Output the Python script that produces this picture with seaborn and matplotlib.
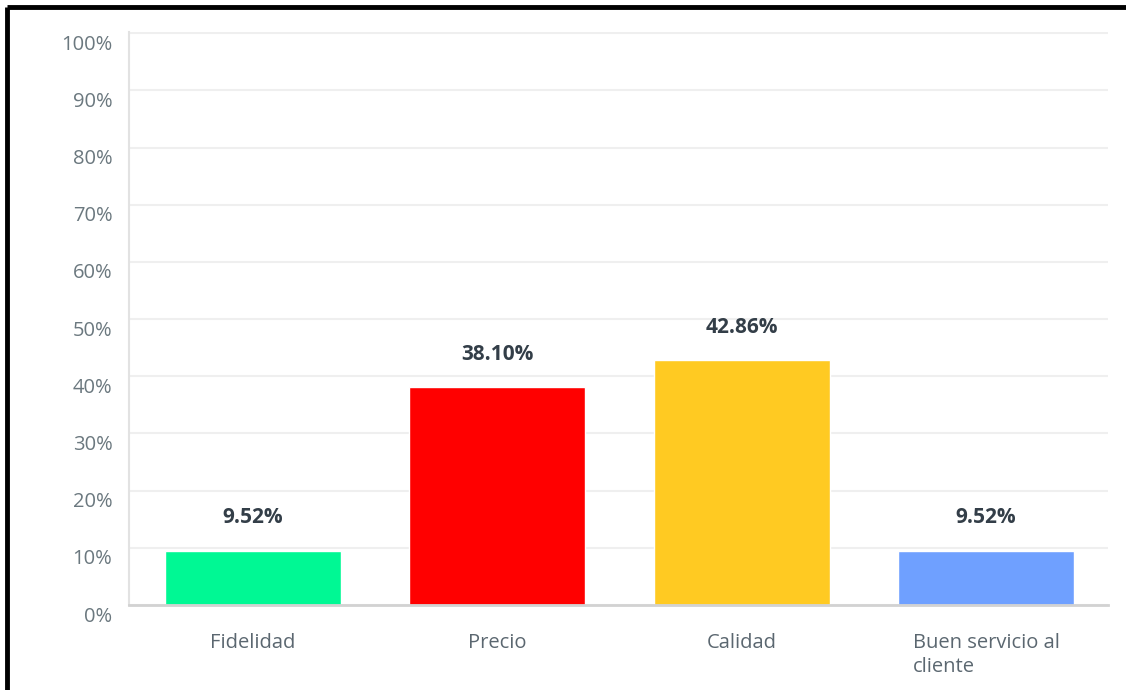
import matplotlib
matplotlib.use("Agg")
import matplotlib.pyplot as plt
import matplotlib.transforms as mtransforms
import seaborn as sns
import pandas as pd
from matplotlib.lines import Line2D

categories = ["Fidelidad", "Precio", "Calidad", "Buen servicio al\ncliente"]
values = [9.52, 38.10, 42.86, 9.52]
bar_labels = ["9.52%", "38.10%", "42.86%", "9.52%"]
colors = ["#00F894", "#FF0000", "#FFCA22", "#6FA0FF"]
yticks = [0, 10, 20, 30, 40, 50, 60, 70, 80, 90, 100]

sns.set_theme(style="white")
plt.rcParams["font.family"] = ["Open Sans", "DejaVu Sans"]

df = pd.DataFrame({"cat": categories, "val": values})

fig = plt.figure(figsize=(11.26, 6.9), dpi=100)
ax = fig.add_axes([129/1126, 85/690, (1108-129)/1126, (605-32)/690])

sns.barplot(data=df, x="cat", y="val", hue="cat", palette=colors,
            width=0.72, legend=False, ax=ax, saturation=1)

ax.set_ylim(0, 100.2)
ax.set_xlim(-0.508, 3.5)
ax.set_yticks(yticks)
ax.set_yticklabels([f"{t}%" for t in yticks], fontsize=14.5, color="#6B787F")
ax.yaxis.grid(True, color="#EFEFEF", linewidth=1.5)
ax.set_axisbelow(True)
ax.set_xlabel("")
ax.set_ylabel("")
ax.tick_params(axis="y", length=0, pad=12)
ax.tick_params(axis="x", length=0, pad=20)

shift_down = mtransforms.ScaledTranslation(0, -9/100, fig.dpi_scale_trans)
for lbl in ax.get_yticklabels():
    lbl.set_transform(lbl.get_transform() + shift_down)

ax.set_xticks(range(4))
ax.set_xticklabels(categories, fontsize=14.5, color="#5B6770", linespacing=1.3)
last = ax.get_xticklabels()[3]
last.set_horizontalalignment("left")
last.set_transform(last.get_transform() + mtransforms.ScaledTranslation(-73/100, 0, fig.dpi_scale_trans))

for s in ["top", "right"]:
    ax.spines[s].set_visible(False)
ax.spines["left"].set_color("#E2E2E2")
ax.spines["left"].set_linewidth(1.5)
ax.spines["bottom"].set_color("#D2D2D2")
ax.spines["bottom"].set_linewidth(2)

for i, (v, t) in enumerate(zip(values, bar_labels)):
    ax.annotate(t, xy=(i, v), xytext=(0, 23.5), textcoords="offset points",
                ha="center", va="center", fontsize=15, fontweight="bold",
                color="#333E48")

# black frame lines on top and left
fig.add_artist(Line2D([7/1126, 1], [1 - 7/690, 1 - 7/690], transform=fig.transFigure,
                      color="black", linewidth=3.5, solid_capstyle="butt"))
fig.add_artist(Line2D([7/1126, 7/1126], [0, 1 - 7/690], transform=fig.transFigure,
                      color="black", linewidth=3.5, solid_capstyle="butt"))

fig.savefig("out.png", dpi=100, facecolor="white")
